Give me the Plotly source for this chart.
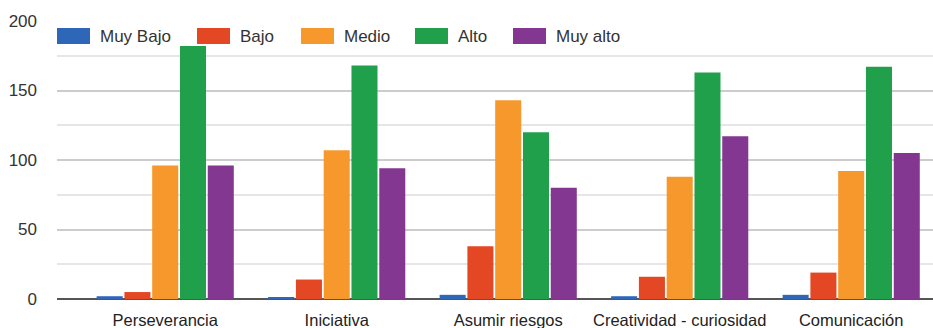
import plotly.graph_objects as go

categories = ["Perseverancia", "Iniciativa", "Asumir riesgos", "Creatividad - curiosidad", "Comunicación"]
series_names = ["Muy Bajo", "Bajo", "Medio", "Alto", "Muy alto"]
muy_bajo = [2, 1, 3, 2, 3]
bajo = [5, 14, 38, 16, 19]
medio = [96, 107, 143, 88, 92]
alto = [182, 168, 120, 163, 167]
muy_alto = [96, 94, 80, 117, 105]
y_ticks = [0, 50, 100, 150, 200]

series_values = [muy_bajo, bajo, medio, alto, muy_alto]
colors = ["#2F67B8", "#E34724", "#F7982C", "#20A04A", "#833791"]

fig = go.Figure()
for name, vals, col in zip(series_names, series_values, colors):
    fig.add_trace(go.Bar(name=name, x=categories, y=vals, marker=dict(color=col, line=dict(width=0)),
                         showlegend=False))

W, H = 933, 328
ml, mr, mt, mb = 57, 0, 21, 29
pw, ph = W - ml - mr, H - mt - mb

# custom legend (swatches + labels), in pixel-derived paper coords
leg_x = [57, 197, 301, 415, 513]
sw_w, sw_top, sw_bot = 33, 28, 44
for name, col, x0 in zip(series_names, colors, leg_x):
    fig.add_shape(type="rect", xref="paper", yref="paper",
                  x0=(x0 - ml) / pw, x1=(x0 + sw_w - ml) / pw,
                  y0=(H - mb - sw_bot) / ph, y1=(H - mb - sw_top) / ph,
                  fillcolor=col, line=dict(width=0), layer="above")
    fig.add_annotation(xref="paper", yref="paper", x=(x0 + sw_w + 8 - ml) / pw,
                       y=(H - mb - 36) / ph, text=name, showarrow=False,
                       xanchor="left", yanchor="middle",
                       font=dict(family="Liberation Sans, Arial", size=17, color="#333333"))

fig.update_layout(
    width=W, height=H,
    margin=dict(l=ml, r=mr, t=mt, b=mb, pad=0),
    plot_bgcolor="white", paper_bgcolor="white",
    barmode="group", bargap=0.19, bargroupgap=0.063,
    font=dict(family="Liberation Sans, Arial", size=17, color="#333333"),
)
fig.update_xaxes(range=[-0.631, 4.477], showgrid=False, showline=False, zeroline=False,
                 ticks="", tickfont=dict(size=16.5, color="#222222"), ticklabelstandoff=9)
fig.update_yaxes(range=[0, 200], tickvals=y_ticks, showgrid=True, gridcolor="#CCCCCC", gridwidth=1.5,
                 minor=dict(dtick=25, showgrid=True, gridcolor="#E6E6E6", gridwidth=1.5),
                 zeroline=True, zerolinecolor="#555555", zerolinewidth=2,
                 showline=False, ticks="", ticklabelstandoff=19,
                 tickfont=dict(size=17, color="#333333"))

fig.write_html("out.html")
